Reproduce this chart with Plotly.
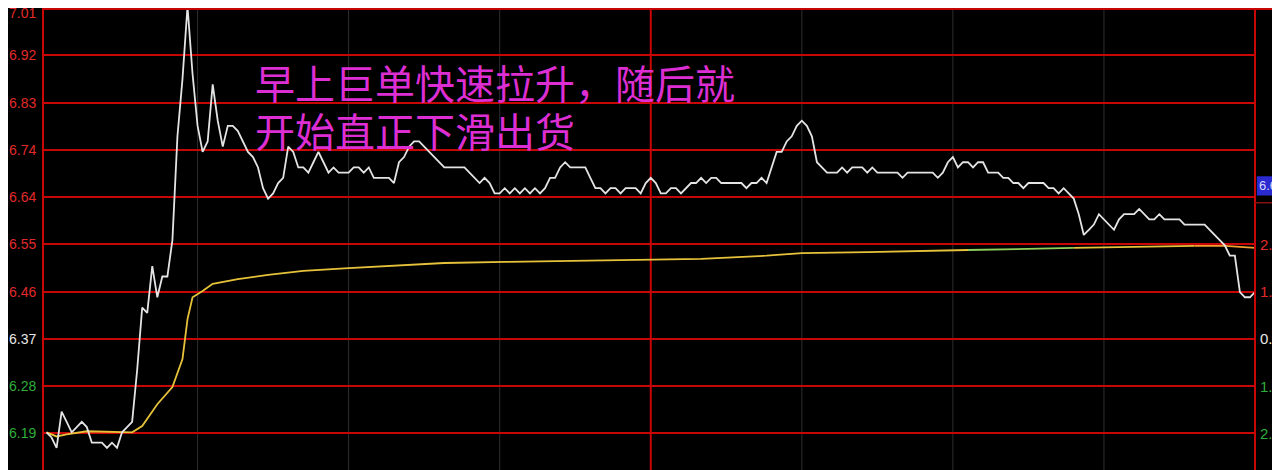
"""Intraday minute chart: price line + average line, red grid on black."""
import plotly.graph_objects as go

prev_close = 6.37

# one price per trading minute (0 = 9:30 open, 240 = close)
minutes = list(range(241))
price = [
    6.19, 6.18, 6.16, 6.23, 6.21, 6.19, 6.20, 6.21, 6.20, 6.17,
    6.17, 6.17, 6.16, 6.17, 6.16, 6.19, 6.20, 6.21, 6.31, 6.43,
    6.42, 6.51, 6.45, 6.49, 6.49, 6.56, 6.76, 6.87, 7.01, 6.88,
    6.78, 6.73, 6.75, 6.86, 6.79, 6.74, 6.78, 6.78, 6.77, 6.75,
    6.73, 6.72, 6.70, 6.66, 6.64, 6.65, 6.67, 6.68, 6.74, 6.73,
    6.70, 6.70, 6.69, 6.71, 6.73, 6.71, 6.69, 6.70, 6.69, 6.69,
    6.69, 6.70, 6.70, 6.69, 6.70, 6.68, 6.68, 6.68, 6.68, 6.67,
    6.71, 6.72, 6.74, 6.75, 6.75, 6.74, 6.73, 6.72, 6.71, 6.70,
    6.70, 6.70, 6.70, 6.70, 6.69, 6.68, 6.67, 6.68, 6.67, 6.65,
    6.65, 6.66, 6.65, 6.66, 6.65, 6.66, 6.65, 6.66, 6.65, 6.66,
    6.68, 6.68, 6.70, 6.71, 6.70, 6.70, 6.70, 6.70, 6.68, 6.66,
    6.66, 6.65, 6.66, 6.66, 6.65, 6.66, 6.66, 6.66, 6.65, 6.67,
    6.68, 6.67, 6.65, 6.65, 6.66, 6.66, 6.65, 6.66, 6.67, 6.67,
    6.68, 6.67, 6.68, 6.68, 6.67, 6.67, 6.67, 6.67, 6.67, 6.66,
    6.67, 6.67, 6.68, 6.67, 6.70, 6.73, 6.73, 6.75, 6.76, 6.78,
    6.79, 6.78, 6.76, 6.71, 6.70, 6.69, 6.69, 6.69, 6.70, 6.69,
    6.70, 6.70, 6.70, 6.69, 6.70, 6.69, 6.69, 6.69, 6.69, 6.69,
    6.68, 6.69, 6.69, 6.69, 6.69, 6.69, 6.69, 6.68, 6.69, 6.71,
    6.72, 6.70, 6.71, 6.71, 6.70, 6.71, 6.71, 6.69, 6.69, 6.69,
    6.68, 6.68, 6.67, 6.67, 6.66, 6.67, 6.67, 6.67, 6.67, 6.66,
    6.66, 6.65, 6.66, 6.65, 6.64, 6.61, 6.57, 6.58, 6.59, 6.61,
    6.60, 6.59, 6.58, 6.60, 6.61, 6.61, 6.61, 6.62, 6.61, 6.60,
    6.60, 6.61, 6.60, 6.60, 6.60, 6.60, 6.59, 6.59, 6.59, 6.59,
    6.59, 6.58, 6.57, 6.56, 6.55, 6.53, 6.53, 6.46, 6.45, 6.45, 6.46,
]

# average price line, read at its turning points
avg_minutes = [0, 2, 4, 8, 17, 19, 22, 25, 27, 28, 29, 31, 33, 38, 44, 51,
               60, 70, 79, 91, 120, 130, 143, 150, 163, 183, 204, 228, 234, 240]
avg_values = [6.190, 6.182, 6.186, 6.192, 6.190, 6.202, 6.244, 6.277, 6.331,
              6.408, 6.450, 6.462, 6.476, 6.485, 6.493, 6.501, 6.506, 6.512,
              6.516, 6.518, 6.522, 6.524, 6.530, 6.535, 6.537, 6.541, 6.545,
              6.549, 6.549, 6.545]

left_labels = ["6.19", "6.28", "6.37", "6.46", "6.55", "6.64", "6.74", "6.83", "6.92", "7.01"]
right_labels = ["2.86%", "1.43%", "0.00%", "1.43%", "2.86%"]
note_lines = ["早上巨单快速拉升，随后就", "开始直正下滑出货"]
last_tag = "6.63"

RED = "#c80606"
# page has an 8px body margin, so the figure is drawn 8px in from the top-left
W, H, ML, MR = 1272, 462, 35, 25
grid_vals = [prev_close * (1 + k / 70) for k in range(-2, 8)]

fig = go.Figure()


def avg_segment(i0, i1, color):
    fig.add_trace(go.Scatter(
        x=avg_minutes[i0:i1 + 1], y=avg_values[i0:i1 + 1], mode="lines",
        line=dict(color=color, width=1.8), hoverinfo="skip",
    ))


i_green0 = avg_minutes.index(183)
i_green1 = avg_minutes.index(204)
i_orange = avg_minutes.index(228)
avg_segment(0, i_green0, "#e6c23a")
avg_segment(i_green0, i_green1, "#8fd05a")
avg_segment(i_green1, i_orange, "#e6c23a")
avg_segment(i_orange, len(avg_minutes) - 1, "#f0a030")

fig.add_trace(go.Scatter(
    x=minutes, y=price, mode="lines", cliponaxis=False,
    line=dict(color="#e4e4e4", width=1.8), hoverinfo="skip",
))

shapes = []
# thin session dividers every 30 min, red one at noon
for m in (30, 60, 90, 150, 180, 210):
    shapes.append(dict(type="line", xref="x", yref="paper", x0=m, x1=m, y0=0, y1=1,
                       line=dict(color="#2e2e2e", width=1), layer="below"))
shapes.append(dict(type="line", xref="x", yref="paper", x0=120, x1=120, y0=0, y1=1,
                   line=dict(color=RED, width=2), layer="below"))
for xp in (0, 1):
    shapes.append(dict(type="line", xref="paper", yref="paper", x0=xp, x1=xp, y0=0, y1=1,
                       line=dict(color=RED, width=2)))
# top line runs on to the edge, small marker line under the price tag
shapes.append(dict(type="line", xref="paper", yref="paper", x0=0, x1=1.03,
                   y0=0.998, y1=0.998, line=dict(color=RED, width=2)))
shapes.append(dict(type="line", xref="paper", yref="y", x0=1, x1=1.03,
                   y0=6.632, y1=6.632, line=dict(color="#801010", width=1.5)))
shapes.append(dict(type="rect", xref="paper", yref="y", x0=1.0015, x1=1.03,
                   y0=6.646, y1=6.683, fillcolor="#2a2ad0", line=dict(width=0)))

ann = []
for i, (v, txt) in enumerate(zip(grid_vals, left_labels)):
    col = "#e8e8e8" if i == 2 else ("#2fae3a" if i < 2 else "#e02a2a")
    top = i == len(left_labels) - 1
    ann.append(dict(x=0, xref="paper", y=v, yref="y", text=txt, showarrow=False,
                    xanchor="right", yanchor="middle", xshift=-5, yshift=-5 if top else 0,
                    font=dict(family="Liberation Sans", size=14, color=col)))
for i, txt in enumerate(right_labels):
    v = grid_vals[4 - i]
    col = "#e02a2a" if i < 2 else ("#e8e8e8" if i == 2 else "#2fae3a")
    ann.append(dict(x=1, xref="paper", y=v, yref="y", text=txt, showarrow=False,
                    xanchor="left", yanchor="middle", xshift=3,
                    font=dict(family="Liberation Sans", size=15, color=col)))
ann.append(dict(x=1, xref="paper", y=6.665, yref="y", text=last_tag, showarrow=False,
                xanchor="left", yanchor="middle", xshift=2,
                font=dict(family="Liberation Sans", size=13, color="#d8d8ff")))
# caption lines, placed by pixel position in the figure
for j, line in enumerate(note_lines):
    ann.append(dict(x=(245 - ML) / (W - ML - MR), xref="paper",
                    y=1 - (74 + 48 * j) / H, yref="paper", text=line, showarrow=False,
                    xanchor="left", yanchor="middle",
                    font=dict(family="Noto Sans CJK SC", size=40, color="#dc2ed2")))

fig.update_layout(
    width=W, height=H,
    margin=dict(l=ML, r=MR, t=0, b=0, autoexpand=False),
    paper_bgcolor="black", plot_bgcolor="black",
    showlegend=False,
    shapes=shapes, annotations=ann,
    xaxis=dict(range=[-0.7, 240], showgrid=False, zeroline=False,
               showticklabels=False, fixedrange=True),
    yaxis=dict(range=[6.1174, grid_vals[-1]], tickvals=grid_vals, showgrid=True,
               gridcolor=RED, gridwidth=2, zeroline=False, showticklabels=False),
)

fig.write_html("out.html")
